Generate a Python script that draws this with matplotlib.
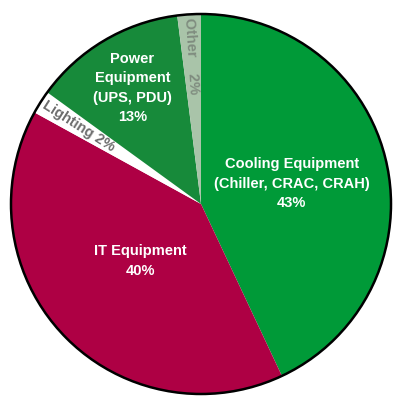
import numpy as np
import matplotlib.pyplot as plt
from matplotlib.patches import Circle

labels = ['Cooling Equipment\n(Chiller, CRAC, CRAH)\n43%', 'IT Equipment\n40%',
          'Lighting 2%', 'Power\nEquipment\n(UPS, PDU)\n13%', 'Other    2%']
shares = [43, 40, 2, 13, 2]
colors = ['#009a38', '#ae0044', '#ffffff', '#178a3a', '#a9c4a9']
text_colors = ['white', 'white', '#6d6d6d', 'white', '#7f8c7f']
label_r = [0.49, 0.44, 0.76, 0.71, 0.78]   # distance of each label from centre
rotated = [False, False, True, False, True]

plt.rcParams['font.family'] = ['Liberation Sans', 'DejaVu Sans']

fig = plt.figure(figsize=(3.96, 3.98), dpi=100)
ax = fig.add_axes([11/396, 4/398, 380/396, 380/398])
wedges, _ = ax.pie(shares, colors=colors, startangle=90, counterclock=False,
                   wedgeprops=dict(linewidth=0))
ax.add_patch(Circle((0, 0), 1, fill=False, edgecolor='black', lw=1.8, clip_on=False))
ax.set_xlim(-1, 1)
ax.set_ylim(-1, 1)

for w, lab, tc, r, rot in zip(wedges, labels, text_colors, label_r, rotated):
    mid = np.deg2rad((w.theta1 + w.theta2) / 2)
    x, y = r * np.cos(mid), r * np.sin(mid)
    angle = 0
    if rot:
        # keep text readable, between -90 and 90
        angle = (np.rad2deg(mid) + 90) % 180 - 90
    ax.text(x, y, lab, ha='center', va='center', color=tc, fontsize=10.5,
            fontweight='bold', rotation=angle, rotation_mode='anchor',
            linespacing=1.5)

fig.savefig('out.png', dpi=100)
